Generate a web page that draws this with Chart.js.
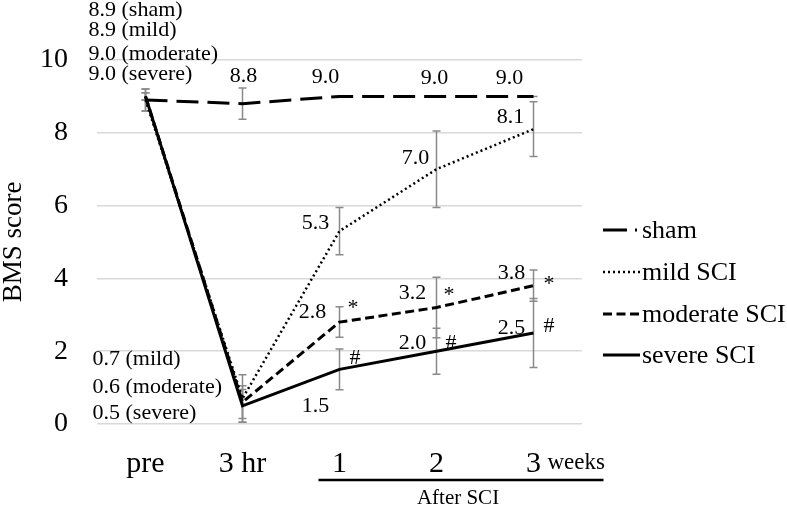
<!DOCTYPE html>
<html>
<head>
<meta charset="utf-8">
<script src="https://cdn.jsdelivr.net/npm/chart.js@4"></script>
<style>
    html, body { margin: 0; padding: 0; background: #fff; }
    #wrap { width: 787px; height: 509px; }
</style>
</head>
<body>
<div id="wrap"><canvas id="chart"></canvas></div>
<script>
    const SERIF = "'Liberation Serif', 'Times New Roman', serif";

    // data
    const categories = ["pre", "3 hr", "1", "2", "3"];
    const seriesNames = ["sham", "mild SCI", "moderate SCI", "severe SCI"];
    const shortNames = ["sham", "mild", "moderate", "severe"];
    const sham = [8.9, 8.8, 9.0, 9.0, 9.0];
    const mild = [8.9, 0.7, 5.3, 7.0, 8.1];
    const moderate = [9.0, 0.6, 2.8, 3.2, 3.8];
    const severe = [9.0, 0.5, 1.5, 2.0, 2.5];
    const shamErr = [0.3, 0.43, 0, 0, 0];
    const mildErr = [0.3, 0.65, 0.65, 1.05, 0.75];
    const moderateErr = [0.1, 0.45, 0.42, 0.83, 0.43];
    const severeErr = [0.1, 0.45, 0.56, 0.63, 0.95];
    const yTicks = [0, 2, 4, 6, 8, 10];

    const values = [sham, mild, moderate, severe];
    const errors = [shamErr, mildErr, moderateErr, severeErr];

    // line looks
    const dashes = [[22, 9], [2, 3], [9, 4.5], []];
    const widths = [3, 2.5, 3, 3];

    // value labels: [series, point, dx, dy, align, withName]
    const labelSpots = [
        [0, 0, -57, -90, "left", true],
        [1, 0, -57, -70, "left", true],
        [2, 0, -57, -42, "left", true],
        [3, 0, -57, -22, "left", true],
        [0, 1, 1, -27, "center"],
        [0, 2, -14, -19, "center"],
        [0, 3, -2, -18, "center"],
        [0, 4, -24, -18, "center"],
        [1, 1, -150, -39, "left", true],
        [2, 1, -150, -15, "left", true],
        [3, 1, -150, 7, "left", true],
        [1, 2, -24, -8, "center"],
        [1, 3, -21, -11, "center"],
        [1, 4, -23, -12, "center"],
        [2, 2, -27, -10, "center"],
        [2, 3, -24, -14, "center"],
        [2, 4, -22, -12, "center"],
        [3, 2, -24, 37, "center"],
        [3, 3, -24, -8, "center"],
        [3, 4, -22, -5, "center"],
    ];
    // significance marks: [series, point, mark, dx, dy]
    const markSpots = [
        [2, 2, "*", 8, -14], [2, 3, "*", 7, -12], [2, 4, "*", 10, -1],
        [3, 2, "#", 10, -11], [3, 3, "#", 9, -8], [3, 4, "#", 10, -7],
    ];

    const errorBars = {
        id: "errorBars",
        beforeDatasetsDraw(chart) {
            const { ctx, scales: { x, y } } = chart;
            ctx.save();
            ctx.strokeStyle = "#8a8a8a";
            ctx.lineWidth = 1.5;
            errors.forEach((errs, s) => {
                errs.forEach((e, i) => {
                    const px = x.getPixelForValue(i);
                    const top = y.getPixelForValue(values[s][i] + e);
                    const bot = y.getPixelForValue(values[s][i] - e);
                    ctx.beginPath();
                    ctx.moveTo(px, top); ctx.lineTo(px, bot);
                    ctx.moveTo(px - 4, top); ctx.lineTo(px + 4, top);
                    ctx.moveTo(px - 4, bot); ctx.lineTo(px + 4, bot);
                    ctx.stroke();
                });
            });
            ctx.restore();
        }
    };

    const decorations = {
        id: "decorations",
        afterDraw(chart) {
            const { ctx, scales: { x, y }, chartArea } = chart;
            ctx.save();
            ctx.fillStyle = "#000";
            ctx.textBaseline = "middle";

            ctx.font = "22px " + SERIF;
            labelSpots.forEach(([s, i, dx, dy, align, withName]) => {
                const v = values[s][i];
                const text = v.toFixed(1) + (withName ? " (" + shortNames[s] + ")" : "");
                ctx.textAlign = align;
                ctx.fillText(text, x.getPixelForValue(i) + dx, y.getPixelForValue(v) + dy);
            });
            ctx.font = "22px " + SERIF;
            ctx.textAlign = "left";
            markSpots.forEach(([s, i, mark, dx, dy]) => {
                ctx.fillText(mark, x.getPixelForValue(i) + dx, y.getPixelForValue(values[s][i]) + dy);
            });

            // "weeks" after the last tick, bracket and "After SCI"
            const last = x.getPixelForValue(categories.length - 1);
            ctx.font = "23px " + SERIF;
            ctx.fillText("weeks", last + 14, 463);
            const bx0 = x.getPixelForValue(2) - 21;
            const bx1 = last + 70;
            ctx.strokeStyle = "#000";
            ctx.lineWidth = 2.5;
            ctx.beginPath();
            ctx.moveTo(bx0, 480); ctx.lineTo(bx1, 480);
            ctx.stroke();
            ctx.font = "21px " + SERIF;
            ctx.textAlign = "center";
            ctx.fillText("After SCI", (bx0 + bx1) / 2 - 3, 498);

            // legend
            const lx = chartArea.right + 21;
            const rows = [230, 272, 314, 355];
            ctx.font = "26px " + SERIF;
            ctx.textAlign = "left";
            seriesNames.forEach((name, s) => {
                ctx.save();
                ctx.strokeStyle = "#000";
                ctx.lineWidth = widths[s];
                ctx.setLineDash(s === 0 ? [24, 8] : dashes[s]);
                ctx.beginPath();
                ctx.moveTo(lx, rows[s]);
                ctx.lineTo(lx + (s === 0 ? 34 : 37), rows[s]);
                ctx.stroke();
                ctx.restore();
                ctx.fillText(name, lx + 39, rows[s] + 1);
            });
            ctx.restore();
        }
    };

    new Chart(document.getElementById("chart"), {
        type: "line",
        data: {
            labels: categories,
            datasets: seriesNames.map((name, s) => ({
                label: name,
                data: values[s],
                borderColor: "#000",
                backgroundColor: "#000",
                borderWidth: widths[s],
                borderDash: dashes[s],
                pointRadius: 0,
                tension: 0,
                fill: false,
            }))
        },
        options: {
            responsive: true,
            maintainAspectRatio: false,
            animation: false,
            layout: { padding: { top: 60, right: 205, bottom: 5, left: 0 } },
            plugins: {
                legend: { display: false },
                tooltip: { enabled: false },
            },
            scales: {
                x: {
                    offset: true,
                    grid: { display: false, drawTicks: false },
                    border: { display: false },
                    ticks: {
                        color: "#000",
                        padding: 22,
                        font: { family: SERIF, size: 30 },
                        maxRotation: 0,
                    },
                },
                y: {
                    min: 0,
                    max: 10,
                    afterBuildTicks(scale) {
                        scale.ticks = yTicks.map(v => ({ value: v }));
                    },
                    afterFit(scale) {
                        scale.width = 97;
                    },
                    grid: { color: "#d9d9d9", lineWidth: 1.5, drawTicks: false },
                    border: { display: false },
                    ticks: {
                        color: "#000",
                        padding: 29,
                        font: { family: SERIF, size: 28 },
                    },
                    title: {
                        display: true,
                        text: "BMS score",
                        color: "#000",
                        padding: 0,
                        font: { family: SERIF, size: 27, lineHeight: 1 },
                    },
                },
            },
        },
        plugins: [errorBars, decorations],
    });
</script>
</body>
</html>
